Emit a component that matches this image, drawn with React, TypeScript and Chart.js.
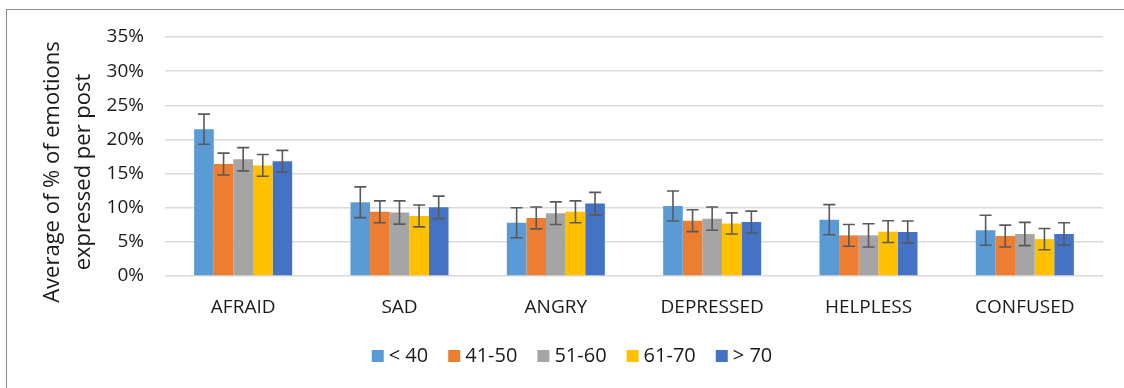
import React, { useEffect, useRef } from "react";
import { Chart, registerables } from "chart.js";

Chart.register(...registerables);

const categories = ["AFRAID", "SAD", "ANGRY", "DEPRESSED", "HELPLESS", "CONFUSED"];
const seriesLabels = ["< 40", "41-50", "51-60", "61-70", "> 70"];
const seriesColors = ["#5B9BD5", "#ED7D31", "#A5A5A5", "#FFC000", "#4472C4"];

const under40 = [21.5, 10.8, 7.8, 10.25, 8.25, 6.7];
const age41to50 = [16.4, 9.4, 8.5, 8.1, 5.95, 5.85];
const age51to60 = [17.1, 9.3, 9.2, 8.4, 5.95, 6.15];
const age61to70 = [16.2, 8.8, 9.4, 7.7, 6.5, 5.4];
const over70 = [16.8, 10.05, 10.6, 7.9, 6.45, 6.15];

const errUnder40 = [2.2, 2.25, 2.2, 2.2, 2.2, 2.2];
const err41to50 = [1.6, 1.6, 1.6, 1.6, 1.6, 1.6];
const err51to60 = [1.7, 1.7, 1.65, 1.7, 1.7, 1.7];
const err61to70 = [1.6, 1.6, 1.6, 1.55, 1.6, 1.55];
const errOver70 = [1.6, 1.65, 1.65, 1.6, 1.6, 1.65];

const yTicks = [0, 5, 10, 15, 20, 25, 30, 35];
const yTitleLines = ["Average of % of emotions", "expressed per post"];

const seriesValues = [under40, age41to50, age51to60, age61to70, over70];
const seriesErrors = [errUnder40, err41to50, err51to60, err61to70, errOver70];

const FONT = '"Open Sans", "Liberation Sans", sans-serif';

const framePlugin = {
  id: "frame",
  beforeDraw(chart: any) {
    const ctx = chart.ctx;
    ctx.save();
    ctx.fillStyle = "#ffffff";
    ctx.fillRect(0, 0, chart.width, chart.height);
    ctx.strokeStyle = "#8c8c8c";
    ctx.lineWidth = 1;
    ctx.strokeRect(6.5, 9.5, chart.width + 20, chart.height + 20);
    ctx.restore();
  },
};

const errorBarPlugin = {
  id: "errorBars",
  afterDatasetsDraw(chart: any) {
    const ctx = chart.ctx;
    const yScale = chart.scales.y;
    ctx.save();
    ctx.strokeStyle = "#595959";
    ctx.lineWidth = 1.6;
    chart.data.datasets.forEach((ds: any, i: number) => {
      const meta = chart.getDatasetMeta(i);
      const errs = seriesErrors[i];
      meta.data.forEach((bar: any, j: number) => {
        const v = ds.data[j];
        const e = errs[j];
        const x = bar.x;
        const yt = yScale.getPixelForValue(v + e);
        const yb = yScale.getPixelForValue(v - e);
        const cap = 6;
        ctx.beginPath();
        ctx.moveTo(x, yt);
        ctx.lineTo(x, yb);
        ctx.moveTo(x - cap, yt);
        ctx.lineTo(x + cap, yt);
        ctx.moveTo(x - cap, yb);
        ctx.lineTo(x + cap, yb);
        ctx.stroke();
      });
    });
    ctx.restore();
  },
};

const titleLegendPlugin = {
  id: "titleLegend",
  afterDraw(chart: any) {
    const ctx = chart.ctx;
    ctx.save();
    // y-axis title
    ctx.fillStyle = "#1a1a1a";
    ctx.font = `22px ${FONT}`;
    ctx.textAlign = "center";
    ctx.textBaseline = "middle";
    const xs = [53, 84];
    yTitleLines.forEach((line, k) => {
      ctx.save();
      ctx.translate(xs[k], 172);
      ctx.rotate(-Math.PI / 2);
      ctx.fillText(line, 0, 0);
      ctx.restore();
    });
    // legend
    ctx.font = `20px ${FONT}`;
    ctx.textAlign = "left";
    const box = 12;
    const boxGap = 5;
    const itemGap = 20;
    const widths = seriesLabels.map((l) => ctx.measureText(l).width);
    const total =
      widths.reduce((a, b) => a + b, 0) + seriesLabels.length * (box + boxGap) + (seriesLabels.length - 1) * itemGap;
    let x = 572 - total / 2;
    const y = 356;
    seriesLabels.forEach((l, k) => {
      ctx.fillStyle = seriesColors[k];
      ctx.fillRect(x, y - box / 2, box, box);
      x += box + boxGap;
      ctx.fillStyle = "#1a1a1a";
      ctx.fillText(l, x, y);
      x += widths[k] + itemGap;
    });
    ctx.restore();
  },
};

export default function App() {
  const ref = useRef<HTMLCanvasElement | null>(null);

  useEffect(() => {
    if (!ref.current) return;
    const chart = new Chart(ref.current, {
      type: "bar",
      data: {
        labels: categories,
        datasets: seriesLabels.map((label, i) => ({
          label,
          data: seriesValues[i],
          backgroundColor: seriesColors[i],
          borderWidth: 0,
          barPercentage: 1,
          categoryPercentage: 0.627,
        })),
      },
      options: {
        responsive: false,
        animation: false,
        devicePixelRatio: 1,
        layout: { padding: { left: 0, right: 21, top: 37, bottom: 62 } },
        plugins: {
          legend: { display: false },
          tooltip: { enabled: false },
          title: { display: false },
        },
        scales: {
          x: {
            grid: { display: false },
            border: { display: false },
            ticks: {
              color: "#1a1a1a",
              font: { family: FONT, size: 19 },
              padding: 12,
              maxRotation: 0,
            },
            afterFit(scale: any) {
              scale.height = 50;
            },
          },
          y: {
            min: 0,
            max: 35,
            afterBuildTicks(scale: any) {
              scale.ticks = yTicks.map((v) => ({ value: v }));
            },
            grid: { color: "#d9d9d9", lineWidth: 1.5, drawTicks: false },
            border: { display: false },
            ticks: {
              color: "#1a1a1a",
              font: { family: FONT, size: 19 },
              padding: 21,
              callback: (v: any) => `${v}%`,
            },
            afterFit(scale: any) {
              scale.width = 165;
            },
          },
        },
      },
      plugins: [framePlugin, errorBarPlugin, titleLegendPlugin],
    });
    return () => chart.destroy();
  }, []);

  return (
    <div style={{ position: "absolute", left: 0, top: 0, width: 1124, height: 388 }}>
      <canvas ref={ref} width={1124} height={388} />
    </div>
  );
}
